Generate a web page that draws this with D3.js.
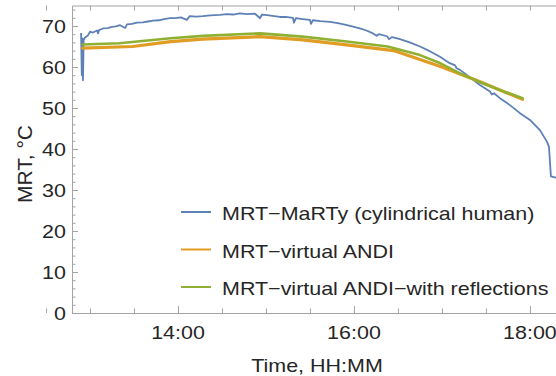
<!DOCTYPE html>
<html>
<head>
<meta charset="utf-8">
<script src="https://cdn.jsdelivr.net/npm/d3@7"></script>
<style>
  body { margin: 0; background: #fff; }
  svg { display: block; }
  text { font-family: "Liberation Sans", Arial, sans-serif; fill: #262626; }
</style>
</head>
<body>
<script>
// MRT-MaRTy (cylindrical human) : [time, °C]
const marty = [
  ["12:53:54", 68.3], ["12:54:24", 58.0], ["12:54:54", 67.0], ["12:55:12", 56.8],
  ["12:55:40", 66.5], ["12:56:36", 67.2], ["12:58:36", 67.7], ["13:00:00", 68.6],
  ["13:02:00", 68.4], ["13:04:48", 68.9], ["13:05:30", 68.2], ["13:06:10", 69.0],
  ["13:08:54", 69.4], ["13:12:00", 69.5], ["13:15:00", 69.8], ["13:17:40", 69.9],
  ["13:20:30", 70.2], ["13:23:54", 69.5], ["13:25:12", 70.4], ["13:28:30", 70.5],
  ["13:32:00", 70.8], ["13:36:00", 70.9], ["13:39:30", 71.1], ["13:43:00", 71.3],
  ["13:47:00", 71.4], ["13:50:30", 71.7], ["13:54:30", 71.9], ["13:58:00", 71.9],
  ["14:02:00", 72.1], ["14:06:00", 71.5], ["14:08:00", 72.4], ["14:12:30", 72.3],
  ["14:17:00", 72.4], ["14:22:00", 72.6], ["14:28:36", 72.7], ["14:33:00", 72.9],
  ["14:37:30", 72.8], ["14:42:18", 73.1], ["14:47:00", 72.9], ["14:52:30", 73.0],
  ["14:56:00", 71.9], ["14:57:18", 72.8], ["15:02:00", 72.6], ["15:05:40", 72.4],
  ["15:09:30", 72.2], ["15:13:30", 72.2], ["15:18:24", 72.0], ["15:19:05", 70.8],
  ["15:20:27", 71.9], ["15:25:00", 71.7], ["15:30:00", 71.5], ["15:30:41", 70.5],
  ["15:32:00", 71.4], ["15:37:00", 71.2], ["15:43:38", 71.0], ["15:49:00", 70.7],
  ["15:55:14", 70.2], ["16:00:00", 69.8], ["16:04:00", 69.4], ["16:08:30", 68.9],
  ["16:13:00", 68.2], ["16:15:30", 67.6], ["16:17:00", 68.0], ["16:22:30", 67.5],
  ["16:24:00", 66.8], ["16:26:00", 67.3], ["16:31:22", 66.8], ["16:38:00", 66.0],
  ["16:45:00", 65.0], ["16:52:00", 63.8], ["16:58:38", 62.5], ["17:05:00", 61.0],
  ["17:09:00", 60.4], ["17:10:00", 59.7], ["17:12:18", 59.3], ["17:19:00", 57.5],
  ["17:25:55", 55.6], ["17:32:44", 54.0], ["17:34:00", 53.3], ["17:35:30", 53.6],
  ["17:39:33", 52.4], ["17:46:22", 50.7], ["17:53:00", 48.8], ["18:00:00", 47.1],
  ["18:06:49", 44.6], ["18:11:35", 41.8], ["18:12:57", 40.6], ["18:14:19", 33.3],
  ["18:17:42", 33.0], ["18:19:00", 33.0]
];

// MRT-virtual ANDI
const andi = [
  ["12:55", 64.6], ["13:29", 65.0], ["13:55", 66.2], ["14:17", 66.8],
  ["14:56", 67.4], ["15:25", 66.6], ["15:55", 65.4], ["16:27", 64.0],
  ["16:59", 60.1], ["17:26", 56.4], ["17:55", 52.1]
];

// MRT-virtual ANDI-with reflections
const andiRefl = [
  ["12:55", 65.5], ["13:20", 65.8], ["13:55", 67.0], ["14:17", 67.6],
  ["14:56", 68.2], ["15:25", 67.4], ["15:55", 66.2], ["16:23", 65.0],
  ["16:45", 62.9], ["16:59", 60.9], ["17:12", 58.5], ["17:26", 56.3],
  ["17:40", 54.3], ["17:55", 52.4]
];

const seriesNames = [
  "MRT\u2212MaRTy (cylindrical human)",
  "MRT\u2212virtual ANDI",
  "MRT\u2212virtual ANDI\u2212with reflections"
];
const seriesColors = ["#5e81b5", "#e19c24", "#8fb032"];

const yTicks = [0, 10, 20, 30, 40, 50, 60, 70];
const xTickLabels = ["14:00", "16:00", "18:00"];
const xTitle = "Time, HH:MM";
const yTitle = "MRT, \u00b0C";

const w = 556, h = 376;
const sx = 1.13; // the picture is a bit stretched sideways
const fs = 19;
const axisColor = "#a4a4a4";

const parseT = (s) => {
  const p = s.split(":").map(Number);
  return new Date(2000, 0, 1, p[0], p[1], p[2] || 0);
};

const x = d3.scaleTime()
  .domain([parseT("12:47:43"), parseT("18:20:30")])
  .range([72, 560]);
const y = d3.scaleLinear()
  .domain([0, 75])
  .range([313, 5.5]);

const svg = d3.select("body").append("svg")
  .attr("width", w)
  .attr("height", h);

// frame + ticks
const halfHours = d3.timeMinute.every(30).range(parseT("12:30"), parseT("18:31"));
const evenHours = halfHours.filter(d => d.getMinutes() === 0 && d.getHours() % 2 === 0);
const oddTicks = halfHours.filter(d => !evenHours.some(e => +e === +d));

const styleAxis = (g) => {
  g.selectAll("path, line").attr("stroke", axisColor).attr("stroke-width", 1);
  g.selectAll("text").remove();
};

svg.append("g")
  .attr("transform", `translate(0,${y(0)})`)
  .call(d3.axisBottom(x).tickValues(oddTicks).tickSize(-4.5).tickSizeOuter(0))
  .call(styleAxis);
svg.append("g")
  .attr("transform", `translate(0,${y(0)})`)
  .call(d3.axisBottom(x).tickValues(evenHours).tickSize(-7).tickSizeOuter(0))
  .call(styleAxis);
svg.append("g")
  .attr("transform", `translate(0,${y(75)})`)
  .call(d3.axisTop(x).tickValues(halfHours).tickSize(-5).tickSizeOuter(0))
  .call(styleAxis);
svg.append("g")
  .attr("transform", `translate(${x.range()[0]},0)`)
  .call(d3.axisLeft(y).tickValues(d3.range(0, 75, 2)).tickSize(-3.5).tickSizeOuter(0))
  .call(styleAxis);
svg.append("g")
  .attr("transform", `translate(${x.range()[0]},0)`)
  .call(d3.axisLeft(y).tickValues(yTicks).tickSize(-6).tickSizeOuter(0))
  .call(styleAxis);

const label = (px, py, txt, anchor, size, scaleX) => svg.append("text")
  .attr("transform", `translate(${px},${py}) scale(${scaleX || sx},1)`)
  .attr("text-anchor", anchor)
  .attr("font-size", size || fs)
  .text(txt);

yTicks.forEach(v => label(66, y(v) + 6.5, v, "end"));
xTickLabels.forEach(s => label(x(parseT(s)), 339, s, "middle"));
label(317, 372, xTitle, "middle");
svg.append("text")
  .attr("transform", "translate(32,164) rotate(-90)")
  .attr("text-anchor", "middle")
  .attr("font-size", 21)
  .text(yTitle);

// series
const line = d3.line()
  .x(d => x(parseT(d[0])))
  .y(d => y(d[1]));

const plot = svg.append("g");
plot.append("path").datum(marty)
  .attr("fill", "none").attr("stroke", seriesColors[0])
  .attr("stroke-width", 1.8).attr("stroke-linejoin", "round")
  .attr("d", line);
plot.append("path").datum(andi)
  .attr("fill", "none").attr("stroke", seriesColors[1])
  .attr("stroke-width", 3.2).attr("stroke-linejoin", "round").attr("stroke-linecap", "round")
  .attr("d", line);
plot.append("path").datum(andiRefl)
  .attr("fill", "none").attr("stroke", seriesColors[2])
  .attr("stroke-width", 2.6).attr("stroke-linejoin", "round").attr("stroke-linecap", "round")
  .attr("d", line);

// legend
const legend = svg.append("g");
seriesNames.forEach((name, i) => {
  const ly = 212 + i * 37.5;
  legend.append("line")
    .attr("x1", 181).attr("x2", 211)
    .attr("y1", ly).attr("y2", ly)
    .attr("stroke", seriesColors[i]).attr("stroke-width", 2);
  legend.append("text")
    .attr("transform", `translate(222,${ly + 8}) scale(${sx},1)`)
    .attr("font-size", fs)
    .text(name);
});
</script>
</body>
</html>
